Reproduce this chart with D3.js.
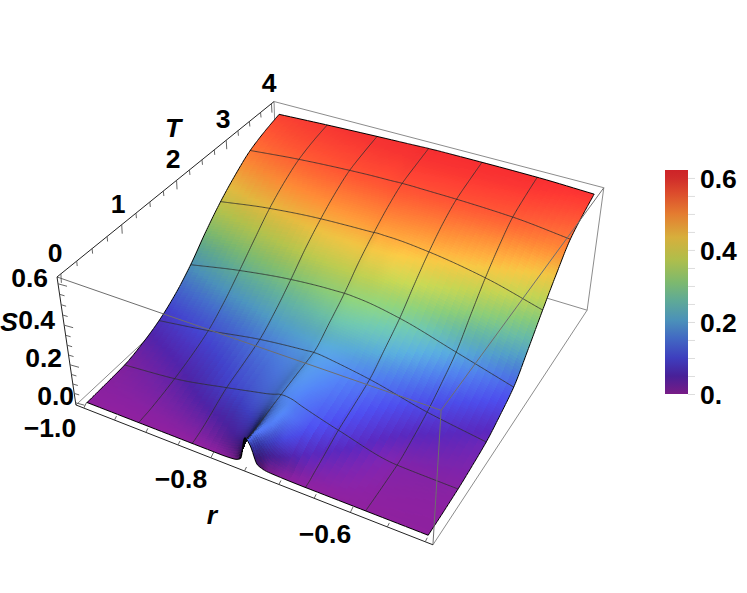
<!DOCTYPE html>
<html>
<head>
<meta charset="utf-8">
<script src="https://cdn.jsdelivr.net/npm/d3@7/dist/d3.min.js"></script>
<style>
  html, body { margin: 0; padding: 0; background: #fff; }
  text { font-family: "Liberation Sans", Arial, sans-serif; font-weight: bold; fill: #000; }
</style>
</head>
<body>
<script>
var outerWidth = 747;
var outerHeight = 593;

// surface heights S, one row per tNodes entry, one column per rNodes entry
var rNodes = [-1, -0.9167, -0.8333, -0.79, -0.77, -0.76, -0.752, -0.745, -0.735, -0.72, -0.6667, -0.5833, -0.5];
var tNodes = [0, 0.03, 0.08, 0.15, 0.3, 0.5, 0.6667, 1, 1.3333, 1.67, 2, 2.33, 2.6667, 3, 3.3333, 3.67, 4];
var sRows = [
  [0, 0, 0, 0, 0.004, 0.02, 0.14, 0.11, 0.02, 0.004, 0, 0, 0],
  [0, 0, 0.001, 0.005, 0.014, 0.04, 0.13, 0.125, 0.055, 0.012, 0.002, 0, 0],
  [0.001, 0.002, 0.006, 0.016, 0.032, 0.06, 0.125, 0.14, 0.095, 0.035, 0.006, 0.001, 0.001],
  [0.002, 0.004, 0.014, 0.035, 0.055, 0.08, 0.125, 0.145, 0.125, 0.07, 0.016, 0.002, 0.001],
  [0.004, 0.012, 0.035, 0.065, 0.085, 0.105, 0.135, 0.15, 0.15, 0.115, 0.035, 0.005, 0.002],
  [0.007, 0.025, 0.068, 0.105, 0.122, 0.135, 0.15, 0.158, 0.16, 0.14, 0.062, 0.01, 0.005],
  [0.011, 0.038, 0.093, 0.125, 0.14, 0.15, 0.16, 0.162, 0.158, 0.14, 0.084, 0.015, 0.008],
  [0.035, 0.07, 0.125, 0.15, 0.16, 0.167, 0.175, 0.177, 0.172, 0.16, 0.115, 0.045, 0.02],
  [0.072, 0.112, 0.161, 0.178, 0.184, 0.187, 0.19, 0.19, 0.187, 0.18, 0.15, 0.084, 0.037],
  [0.13, 0.18, 0.225, 0.242, 0.248, 0.25, 0.252, 0.252, 0.25, 0.245, 0.215, 0.14, 0.075],
  [0.208, 0.263, 0.303, 0.315, 0.318, 0.319, 0.32, 0.32, 0.318, 0.314, 0.283, 0.204, 0.123],
  [0.305, 0.35, 0.388, 0.397, 0.4, 0.401, 0.402, 0.403, 0.402, 0.4, 0.372, 0.308, 0.225],
  [0.393, 0.435, 0.46, 0.466, 0.468, 0.469, 0.47, 0.472, 0.471, 0.47, 0.455, 0.41, 0.337],
  [0.465, 0.5, 0.52, 0.525, 0.527, 0.528, 0.529, 0.53, 0.53, 0.529, 0.522, 0.493, 0.44],
  [0.524, 0.549, 0.565, 0.57, 0.571, 0.572, 0.573, 0.573, 0.573, 0.572, 0.569, 0.558, 0.529],
  [0.56, 0.578, 0.588, 0.592, 0.593, 0.594, 0.595, 0.595, 0.595, 0.595, 0.594, 0.589, 0.572],
  [0.586, 0.597, 0.606, 0.61, 0.612, 0.613, 0.614, 0.614, 0.615, 0.615, 0.615, 0.613, 0.604]
];

var meshR = [-0.9167, -0.8333, -0.75, -0.6667, -0.5833];
var meshT = [0.6667, 1.3333, 2, 2.6667, 3.3333];

var rTicks = [-1, -0.95, -0.9, -0.85, -0.8, -0.75, -0.7, -0.65, -0.6, -0.55, -0.5];
var rLabels = [-1, -0.8, -0.6];
var tTicks = [0, 0.25, 0.5, 0.75, 1, 1.25, 1.5, 1.75, 2, 2.25, 2.5, 2.75, 3, 3.25, 3.5, 3.75, 4];
var tLabels = [0, 1, 2, 3, 4];
var sTicks = [0, 0.05, 0.1, 0.15, 0.2, 0.25, 0.3, 0.35, 0.4, 0.45, 0.5, 0.55, 0.6];
var sLabels = [0, 0.2, 0.4, 0.6];

// colour bar palette, S value and colour
var paletteS = [0, 0.05, 0.1, 0.155, 0.205, 0.26, 0.31, 0.373, 0.435, 0.5, 0.56, 0.6, 0.622];
var paletteC = ["#781c86", "#482098", "#3e3ebe", "#4269c3", "#4b91b9", "#5faa96", "#7db96e", "#afbe4b", "#d7af3c", "#e47c30", "#dc4a2c", "#d02c2a", "#cd2328"];

// box corners on screen, used to fit the camera
var boxCorners = [
  { p: [0, 0, 1], s: [57, 277] },
  { p: [0, 0, 0], s: [76, 405] },
  { p: [0, 1, 1], s: [274, 101.5] },
  { p: [1, 1, 1], s: [604, 188] },
  { p: [1, 1, 0], s: [587, 310] },
  { p: [1, 0, 0], s: [433, 545] },
  { p: [1, 0, 1], s: [441, 410] }
];

var xScale = d3.scaleLinear().domain([-1.013, -0.49]).range([0, 1]);
var yScale = d3.scaleLinear().domain([-0.06, 4.06]).range([0, 1]);
var zScale = d3.scaleLinear().domain([-0.012, 0.632]).range([0, 1]);
var colorScale = d3.scaleLinear().domain(paletteS).range(paletteC).clamp(true);

// least squares fit of a 3x4 camera matrix
function fitCamera(pairs) {
  var A = [], b = [];
  pairs.forEach(function (c) {
    var x = c.p[0], y = c.p[1], z = c.p[2], u = c.s[0], v = c.s[1];
    A.push([x, y, z, 1, 0, 0, 0, 0, -u * x, -u * y, -u * z]); b.push(u);
    A.push([0, 0, 0, 0, x, y, z, 1, -v * x, -v * y, -v * z]); b.push(v);
  });
  var n = 11, M = [];
  for (var i = 0; i < n; i++) {
    M.push([]);
    for (var j = 0; j <= n; j++) {
      var sum = 0;
      for (var k = 0; k < A.length; k++) sum += A[k][i] * (j < n ? A[k][j] : b[k]);
      M[i].push(sum);
    }
  }
  for (i = 0; i < n; i++) {
    var best = i;
    for (k = i + 1; k < n; k++) if (Math.abs(M[k][i]) > Math.abs(M[best][i])) best = k;
    var tmp = M[i]; M[i] = M[best]; M[best] = tmp;
    for (k = 0; k < n; k++) {
      if (k === i) continue;
      var f = M[k][i] / M[i][i];
      for (j = i; j <= n; j++) M[k][j] -= f * M[i][j];
    }
  }
  return M.map(function (row, idx) { return row[n] / row[idx]; });
}
var cam = fitCamera(boxCorners);

function projectUnit(x, y, z) {
  var w = cam[8] * x + cam[9] * y + cam[10] * z + 1;
  return [
    (cam[0] * x + cam[1] * y + cam[2] * z + cam[3]) / w,
    (cam[4] * x + cam[5] * y + cam[6] * z + cam[7]) / w
  ];
}
function project(r, T, S) {
  return projectUnit(xScale(r), yScale(T), zScale(S));
}

// monotone cubic through a column of table values
function tangents(xs, ys) {
  var n = xs.length, d = [], m = [];
  for (var i = 0; i < n - 1; i++) d.push((ys[i + 1] - ys[i]) / (xs[i + 1] - xs[i]));
  m.push(d[0]);
  for (i = 1; i < n - 1; i++) {
    if (d[i - 1] * d[i] <= 0) m.push(0);
    else {
      var h0 = xs[i] - xs[i - 1], h1 = xs[i + 1] - xs[i];
      m.push(3 * (h0 + h1) / ((2 * h1 + h0) / d[i - 1] + (h1 + 2 * h0) / d[i]));
    }
  }
  m.push(d[n - 2]);
  return m;
}
function hermite(xs, ys, ms, x) {
  var i = Math.max(0, Math.min(xs.length - 2, d3.bisectRight(xs, x) - 1));
  var h = xs[i + 1] - xs[i], t = (x - xs[i]) / h, t2 = t * t, t3 = t2 * t;
  return (2 * t3 - 3 * t2 + 1) * ys[i] + (t3 - 2 * t2 + t) * h * ms[i] +
    (-2 * t3 + 3 * t2) * ys[i + 1] + (t3 - t2) * h * ms[i + 1];
}
var rowTangents = sRows.map(function (row) { return tangents(rNodes, row); });
function surfaceAtR(r) {
  return sRows.map(function (row, i) { return hermite(rNodes, row, rowTangents[i], r); });
}

// sampling of the surface for drawing only, denser around the notch
var rSamples = d3.range(-1, -0.8, 0.01)
  .concat(d3.range(-0.8, -0.7, 0.0015))
  .concat(d3.range(-0.7, -0.5, 0.01)).concat([-0.5]);
var tSamples = d3.range(0, 0.3, 0.02).concat(d3.range(0.3, 4, 0.025)).concat([4]);

var grid = rSamples.map(function (r) {
  var col = surfaceAtR(r), m = tangents(tNodes, col);
  return tSamples.map(function (T) { return hermite(tNodes, col, m, T); });
});

function surfaceValue(r, T) {
  var col = surfaceAtR(r);
  return hermite(tNodes, col, tangents(tNodes, col), T);
}

// lighting on top of the colour function, normals over a fixed width so the table nodes do not show
var light = [0.35, -0.15, 0.92];
function shade(i, j) {
  var i0 = i, i1 = i;
  while (i0 > 0 && rSamples[i] - rSamples[i0] < 0.006) i0--;
  while (i1 < rSamples.length - 1 && rSamples[i1] - rSamples[i] < 0.006) i1++;
  var j0 = j, j1 = j;
  while (j0 > 0 && tSamples[j] - tSamples[j0] < 0.06) j0--;
  while (j1 < tSamples.length - 1 && tSamples[j1] - tSamples[j] < 0.06) j1++;
  var dzdx = (zScale(grid[i1][j]) - zScale(grid[i0][j])) / (xScale(rSamples[i1]) - xScale(rSamples[i0])) * 0.42;
  var dzdy = (zScale(grid[i][j1]) - zScale(grid[i][j0])) / (yScale(tSamples[j1]) - yScale(tSamples[j0])) * 0.42;
  var len = Math.sqrt(dzdx * dzdx + dzdy * dzdy + 1);
  var dot = (-dzdx * light[0] - dzdy * light[1] + light[2]) / len;
  return 0.08 + 1.2 * Math.max(0, dot);
}

var svg = d3.select("body").append("svg")
  .attr("width", outerWidth)
  .attr("height", outerHeight)
  .style("display", "block");

function boxLine(a, b, color, width) {
  var p = projectUnit(a[0], a[1], a[2]), q = projectUnit(b[0], b[1], b[2]);
  svg.append("line")
    .attr("x1", p[0]).attr("y1", p[1]).attr("x2", q[0]).attr("y2", q[1])
    .attr("stroke", color).attr("stroke-width", width);
}

var boxGray = "#8c8c8c";

// rear box edges
boxLine([0, 1, 1], [1, 1, 1], boxGray, 1);
boxLine([1, 1, 1], [1, 1, 0], boxGray, 1);
boxLine([0, 1, 1], [0, 1, 0], boxGray, 1);
boxLine([0, 1, 0], [1, 1, 0], boxGray, 1);
boxLine([0, 0, 0], [0, 1, 0], boxGray, 1);
boxLine([1, 0, 0], [1, 1, 0], boxGray, 1);

// surface quads, back to front
var quads = [];
for (var j = tSamples.length - 2; j >= 0; j--) {
  for (var i = 0; i < rSamples.length - 1; i++) {
    quads.push({ i: i, j: j });
  }
}
var line = d3.line();
svg.append("g")
  .attr("shape-rendering", "crispEdges")
  .selectAll("path")
  .data(quads)
  .enter()
  .append("path")
  .attr("d", function (q) {
    var i = q.i, j = q.j;
    return line([
      project(rSamples[i], tSamples[j], grid[i][j]),
      project(rSamples[i + 1], tSamples[j], grid[i + 1][j]),
      project(rSamples[i + 1], tSamples[j + 1], grid[i + 1][j + 1]),
      project(rSamples[i], tSamples[j + 1], grid[i][j + 1])
    ]) + "Z";
  })
  .attr("fill", function (q) {
    var s = (grid[q.i][q.j] + grid[q.i + 1][q.j + 1]) / 2;
    var c = d3.rgb(colorScale(s));
    var k = shade(q.i, q.j);
    return d3.rgb(Math.min(255, c.r * k), Math.min(255, c.g * k), Math.min(255, c.b * k)).formatHex();
  });

// mesh lines
var curve = d3.line();
var meshFine = d3.range(-1, -0.5, 0.002).concat([-0.5]);
var meshG = svg.append("g").attr("fill", "none").attr("stroke", "#2e2e2e").attr("stroke-opacity", 0.8).attr("stroke-width", 1);
meshT.forEach(function (T) {
  meshG.append("path").attr("d", curve(meshFine.map(function (r) {
    return project(r, T, surfaceValue(r, T));
  })));
});
meshR.forEach(function (r) {
  meshG.append("path").attr("d", curve(d3.range(0, 4.001, 0.02).map(function (T) {
    return project(r, T, surfaceValue(r, T));
  })));
});

// surface boundary
var edgeG = svg.append("g").attr("fill", "none").attr("stroke", "#000").attr("stroke-width", 1);
[0, 4].forEach(function (T) {
  edgeG.append("path").attr("d", curve(rSamples.map(function (r) {
    return project(r, T, surfaceValue(r, T));
  })));
});
[-1, -0.5].forEach(function (r) {
  edgeG.append("path").attr("d", curve(d3.range(0, 4.001, 0.02).map(function (T) {
    return project(r, T, surfaceValue(r, T));
  })));
});

// front box edges, over the surface
boxLine([0, 0, 1], [1, 0, 1], "#6e6e6e", 1);
boxLine([1, 0, 1], [1, 1, 1], "#6e6e6e", 1);
boxLine([1, 0, 1], [1, 0, 0], "#6e6e6e", 1);

// axis edges
boxLine([0, 0, 1], [0, 1, 1], "#222", 1);
boxLine([0, 0, 1], [0, 0, 0], "#222", 1);
boxLine([0, 0, 0], [1, 0, 0], "#222", 1);

function tickMark(a, dx, dy) {
  svg.append("line")
    .attr("x1", a[0]).attr("y1", a[1]).attr("x2", a[0] + dx).attr("y2", a[1] + dy)
    .attr("stroke", "#555").attr("stroke-width", 0.9);
}
rTicks.forEach(function (r) {
  var big = rLabels.indexOf(r) >= 0;
  tickMark(projectUnit(xScale(r), 0, 0), big ? 3 : 2, big ? -6 : -4);
});
tTicks.forEach(function (T) {
  var big = tLabels.indexOf(T) >= 0;
  tickMark(projectUnit(0, yScale(T), 1), 0.5, big ? 9 : 5);
});
sTicks.forEach(function (s) {
  var big = sLabels.indexOf(s) >= 0;
  tickMark(projectUnit(0, 0, zScale(s)), big ? 9 : 5, big ? 2.5 : 1.5);
});

// axis labels
var fontSize = 26.5;
function label(txt, x, y, italic, anchor) {
  svg.append("text")
    .attr("x", x).attr("y", y)
    .attr("text-anchor", anchor || "middle")
    .attr("font-size", fontSize)
    .attr("font-style", italic ? "italic" : null)
    .text(txt);
}
var tLabelPos = [[55, 262], [118, 213], [173, 168], [223, 128], [269, 92]];
tLabels.forEach(function (T, i) {
  label(d3.format("d")(T), tLabelPos[i][0], tLabelPos[i][1]);
});
var sLabelPos = [[74, 404.5], [62, 367], [55, 329], [48, 287]];
sLabels.forEach(function (s, i) {
  label(d3.format(".1f")(s), sLabelPos[i][0], sLabelPos[i][1], false, "end");
});
var rLabelPos = [[50, 437], [181, 488], [325, 543]];
rLabels.forEach(function (r, i) {
  label(d3.format(".1f")(r).replace("-", "\u2212"), rLabelPos[i][0], rLabelPos[i][1]);
});
label("T", 173, 137, true);
label("S", 9, 331, true);
label("r", 212, 524, true);

// colour bar
var barScale = d3.scaleLinear().domain([0, 0.622]).range([394, 170]);
var defs = svg.append("defs");
var grad = defs.append("linearGradient").attr("id", "bar").attr("x1", 0).attr("x2", 0).attr("y1", 1).attr("y2", 0);
paletteS.forEach(function (s, i) {
  grad.append("stop").attr("offset", s / 0.622).attr("stop-color", paletteC[i]);
});
svg.append("rect")
  .attr("x", 665).attr("y", barScale(0.622)).attr("width", 23).attr("height", barScale(0) - barScale(0.622))
  .attr("fill", "url(#bar)");

var barAxis = d3.axisRight(barScale).tickValues(sTicks).tickSize(7).tickFormat("");
svg.append("g")
  .attr("transform", "translate(688,0)")
  .call(barAxis)
  .call(function (g) {
    g.select(".domain").remove();
    g.selectAll("line").attr("stroke", "#ddd");
  });
var barLabels = [0.6, 0.4, 0.2, 0];
barLabels.forEach(function (s) {
  label(s === 0 ? "0." : d3.format(".1f")(s), 700, barScale(s) + 10, false, "start");
});
</script>
</body>
</html>
